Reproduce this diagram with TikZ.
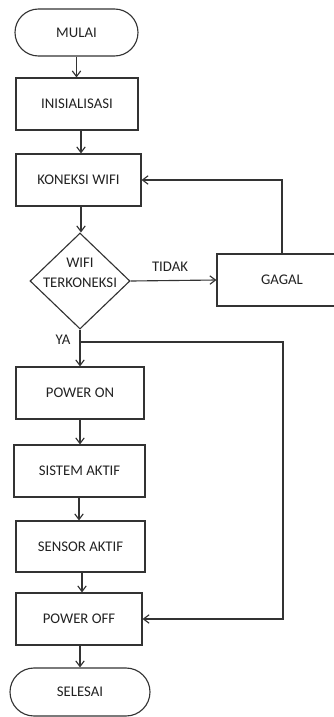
\documentclass[tikz,border=0pt]{standalone}
\usepackage{fontspec}
\setmainfont{Carlito}
\usetikzlibrary{shapes.misc,shapes.geometric,arrows.meta}
\definecolor{ln}{HTML}{333333}
\definecolor{tx}{HTML}{222222}
\begin{document}
\begin{tikzpicture}[x=0.025cm,y=-0.025cm,
  every node/.style={text=tx,font=\fontsize{10.5}{12}\selectfont},
  box/.style={draw=ln,line width=0.8pt,rectangle,inner sep=0pt,minimum height=52*0.025cm},
  term/.style={draw=ln,line width=0.8pt,rounded rectangle,inner sep=0pt,minimum height=47*0.025cm},
  dec/.style={draw=ln,line width=0.8pt,diamond,inner sep=0pt,minimum width=100*0.025cm,minimum height=96*0.025cm},
  conn/.style={draw=ln,line width=0.8pt,-{Straight Barb[length=4pt,width=6pt]}},
  lbl/.style={font=\fontsize{10.5}{12}\selectfont}]
\useasboundingbox (0,0) rectangle (334,717);
\clip (0,0) rectangle (334,717);
\node[term,minimum width=123*0.025cm] (mulai) at (76.5,32.5) {MULAI};
\node[box,minimum width=122*0.025cm] (init) at (77,104) {INISIALISASI};
\node[box,minimum width=125*0.025cm] (kon) at (78.5,180) {KONEKSI WIFI};
\node[dec] (dec) at (80,281) {};
\node[align=center,font=\fontsize{10.5}{14.5}\selectfont] (dect) at (80,273) {WIFI\\TERKONEKSI};
\node[box,minimum width=130*0.025cm] (gagal) at (282,280) {GAGAL};
\node[box,minimum width=128*0.025cm] (pon) at (80,393) {POWER ON};
\node[box,minimum width=131*0.025cm] (sis) at (79.5,471) {SISTEM AKTIF};
\node[box,minimum width=129*0.025cm,minimum height=51*0.025cm] (sen) at (80.5,546.5) {SENSOR AKTIF};
\node[box,minimum width=126*0.025cm] (poff) at (79,619) {POWER OFF};
\node[term,minimum width=140*0.025cm,minimum height=48*0.025cm] (sel) at (80,692) {SELESAI};
\coordinate (ya) at (80,342);
\coordinate (rc) at (283,342);
\node[lbl] (tidak) at (170,267) {TIDAK};
\node[lbl] (yal) at (63,340) {YA};
\draw[conn] (mulai.south) -- (mulai.south |- init.north);
\draw[conn] (init.south -| 81,0) -- (kon.north -| 81,0);
\draw[conn] (kon.south -| 81,0) -- (dec.north -| 81,0);
\draw[conn] (dec.east) -- (gagal.west);
\draw[conn] (gagal.north) |- (kon.east);
\draw[conn] (dec.south) -- (pon.north -| dec.south);
\draw[conn] (ya) -- (rc) |- (poff.east);
\draw[conn] (pon.south -| 80,0) -- (sis.north -| 80,0);
\draw[conn] (sis.south -| 79,0) -- (sen.north -| 79,0);
\draw[conn] (sen.south -| 82,0) -- (poff.north -| 82,0);
\draw[conn] (poff.south -| 80,0) -- (sel.north -| 80,0);
\end{tikzpicture}
\end{document}
